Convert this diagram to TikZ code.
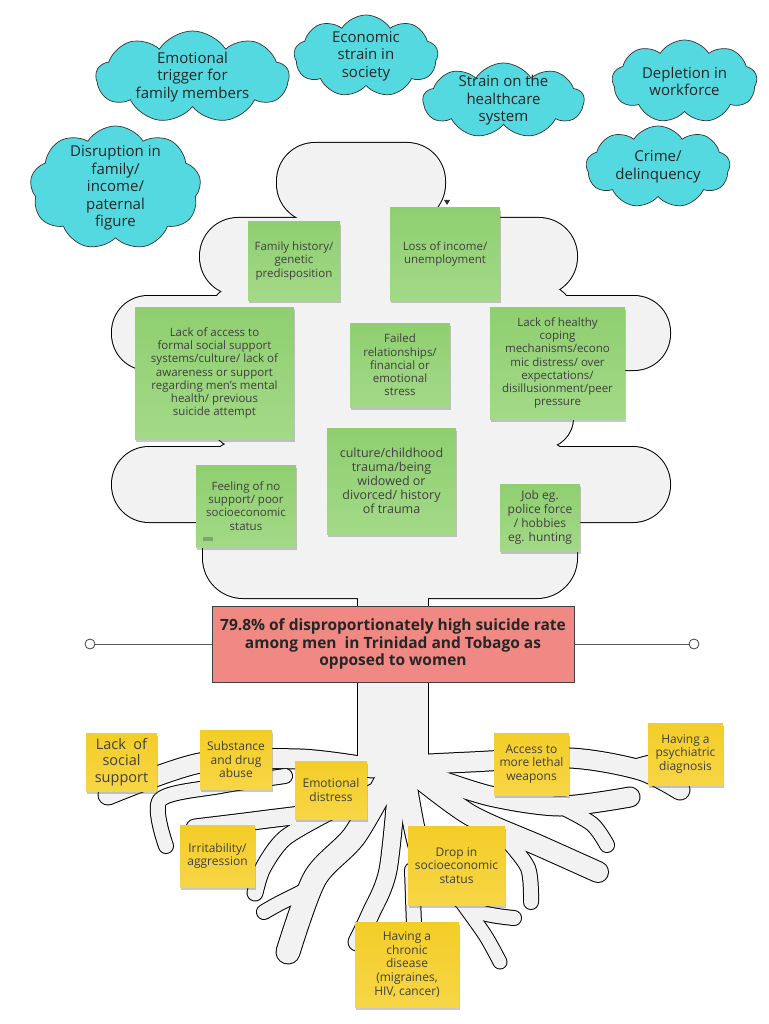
\documentclass[tikz,border=0pt]{standalone}
\usepackage{fontspec}
\setmainfont{Open Sans}
\usepackage{xcolor}
\usepackage{tikz}
\usetikzlibrary{shapes.symbols,shadows,positioning}
\definecolor{cloudcyan}{RGB}{84,217,224}
\definecolor{greentop}{RGB}{143,207,112}
\definecolor{greenbot}{RGB}{163,217,135}
\definecolor{yellowtop}{RGB}{243,205,40}
\definecolor{yellowbot}{RGB}{247,214,70}
\definecolor{ratered}{RGB}{240,137,131}
\definecolor{treegray}{RGB}{242,242,242}
\tikzset{
  cloudnote/.style={cloud, cloud puffs=9, cloud puff arc=115, cloud ignores aspect, draw=black!80, fill=cloudcyan, line width=0.7pt, inner sep=0pt},
  cloudtext/.style={align=center, text=black!85, font=\fontsize{15}{17.5}\selectfont},
  sticky/.style={align=center, text=black!75, drop shadow={shadow xshift=1pt, shadow yshift=-3pt, opacity=0.3, fill=black!70}},
  greennote/.style={sticky, top color=greentop, bottom color=greenbot, font=\fontsize{11.5}{13.3}\selectfont},
  yellownote/.style={sticky, top color=yellowtop, bottom color=yellowbot, font=\fontsize{12}{13.6}\selectfont},
  ratebox/.style={draw=black!75, fill=ratered, line width=0.8pt, align=center, text=black!85, font=\bfseries\fontsize{15.5}{17.5}\selectfont},
  endpoint/.style={circle, draw=black!75, fill=white, line width=0.8pt, minimum size=10pt, inner sep=0pt},
  connector/.style={draw=black!65, line width=0.9pt}
}
% lobes of the crown and the trunk
\newcommand{\treeshape}[1]{%
  \path[#1, rounded corners=38pt] (277,143) rectangle (445,222);
  \path[#1, rounded corners=38pt] (200,218) rectangle (577,295);
  \path[#1, rounded corners=36pt] (112,296) rectangle (670,370);
  \path[#1, rounded corners=30pt] (210,285) rectangle (573,448);
  \path[#1, rounded corners=37pt] (112,447) rectangle (670,522);
  \path[#1, rounded corners=40pt] (203,440) rectangle (577,598);
  \path[#1] (358,560) rectangle (428,775);
}
% root branches
\newcommand{\rootshape}[2]{%
  \begin{scope}[#1, line cap=round, line join=round]
    \draw[line width=19pt+#2] plot[smooth] coordinates {(372,768) (300,759) (200,763) (108,795)};
    \draw[line width=14pt+#2] plot[smooth] coordinates {(285,776) (220,786) (160,800) (166,846)};
    \draw[line width=17pt+#2] plot[smooth] coordinates {(375,792) (330,810) (260,820) (195,828)};
    \draw[line width=15pt+#2] plot[smooth] coordinates {(330,812) (285,838) (263,868) (255,893)};
    \draw[line width=23pt+#2] plot[smooth] coordinates {(393,768) (355,835) (315,878) (288,952)};
    \draw[line width=14pt+#2] plot[smooth] coordinates {(310,888) (280,903) (264,912)};
    \draw[line width=17pt+#2] plot[smooth] coordinates {(398,772) (388,870) (370,915) (357,942)};
    \draw[line width=20pt+#2] plot[smooth] coordinates {(405,775) (420,850) (450,895)};
    \draw[line width=14pt+#2] plot[smooth] coordinates {(412,870) (414,925)};
    \draw[line width=19pt+#2] plot[smooth] coordinates {(410,765) (470,762) (570,758) (640,770) (680,790)};
    \draw[line width=14pt+#2] plot[smooth] coordinates {(630,768) (670,758) (705,758)};
    \draw[line width=19pt+#2] plot[smooth] coordinates {(425,775) (490,796) (560,806) (630,797)};
    \draw[line width=14pt+#2] plot[smooth] coordinates {(560,806) (592,824) (607,845)};
    \draw[line width=20pt+#2] plot[smooth] coordinates {(412,772) (470,815) (540,846) (598,872)};
    \draw[line width=14pt+#2] plot[smooth] coordinates {(505,838) (528,868) (531,902)};
    \draw[line width=14pt+#2] plot[smooth] coordinates {(445,890) (480,912) (514,918)};
    \draw[line width=13pt+#2] plot[smooth] coordinates {(460,900) (485,935) (500,962)};
  \end{scope}}

\begin{document}
\begin{tikzpicture}[x=1pt, y=-1pt]
\useasboundingbox (0,0) rectangle (768,1024);
\fill[white] (0,0) rectangle (768,1024);

% tree
\treeshape{draw=black, line width=2pt}
\rootshape{black}{2pt}
\treeshape{fill=treegray}
\rootshape{treegray}{0pt}
\fill[black!80] (444,200) -- (450,200) -- (447,205) -- cycle;

% consequences
\node[cloudnote, minimum width=193pt, minimum height=92pt] (trigger) at (192.5,77) {};
\node[cloudtext] (triggertext) at (trigger) {Emotional\\trigger for\\family members};
\node[cloudnote, minimum width=144pt, minimum height=82pt] (economy) at (366,56) {};
\node[cloudtext] (economytext) at (economy) {Economic\\strain in\\society};
\node[cloudnote, minimum width=161pt, minimum height=75pt] (health) at (503.5,100.5) {};
\node[cloudtext] (healthtext) at (health) {Strain on the\\healthcare\\system};
\node[cloudnote, minimum width=145pt, minimum height=83pt] (workforce) at (684.5,81.5) {};
\node[cloudtext] (workforcetext) at (workforce) {Depletion in\\workforce};
\node[cloudnote, minimum width=144pt, minimum height=82pt] (crime) at (658,167) {};
\node[cloudtext] (crimetext) at (crime) {Crime/\\delinquency};
\node[cloudnote, minimum width=171pt, minimum height=124pt] (disruption) at (115.5,188) {};
\node[cloudtext] (disruptiontext) at (disruption) {Disruption in\\family/\\income/\\paternal\\figure};

% causes
\node[greennote, minimum width=92pt, minimum height=78pt] (history) at (294,261) {Family history/\\genetic\\predisposition};
\node[greennote, minimum width=110pt, minimum height=92pt] (income) at (445,254) {Loss of income/\\unemployment};
\node[greennote, minimum width=159pt, minimum height=132pt] (access) at (214.5,373) {Lack of access to\\formal social support\\systems/culture/ lack of\\awareness or support\\regarding men’s mental\\health/ previous\\suicide attempt};
\node[greennote, minimum width=100pt, minimum height=84pt] (failed) at (400,365) {Failed\\relationships/\\financial or\\emotional\\stress};
\node[greennote, minimum width=135pt, minimum height=112pt] (coping) at (557.5,363) {Lack of healthy\\coping\\mechanisms/econo\\mic distress/ over\\expectations/\\disillusionment/peer\\pressure};
\node[greennote, font=\fontsize{12.5}{14}\selectfont, minimum width=129pt, minimum height=106pt] (trauma) at (391.5,481) {culture/childhood\\trauma/being\\widowed or\\divorced/ history\\of trauma};
\node[greennote, minimum width=100pt, minimum height=82pt] (nosupport) at (246,506) {Feeling of no\\support/ poor\\socioeconomic\\status};
\fill[greentop!60!black, opacity=0.5] (203,537) rectangle (213,541);
\node[greennote, font=\fontsize{12}{14}\selectfont, minimum width=80pt, minimum height=67pt] (job) at (540,517.5) {Job eg.\\police force\\/ hobbies\\eg. hunting};

% problem
\node[ratebox, minimum width=362pt, minimum height=76pt] (rate) at (393,644) {79.8\% of disproportionately high suicide rate\\among men\ \ in Trinidad and Tobago as\\opposed to women};
\node[endpoint] (leftend) at (90,644) {};
\node[endpoint] (rightend) at (694,644) {};
\draw[connector] (rate) -- (leftend);
\draw[connector] (rate) -- (rightend);

% roots
\node[yellownote, font=\fontsize{14.5}{16.5}\selectfont, minimum width=71pt, minimum height=58pt] (social) at (121.5,762) {Lack\ \ of\\social\\support};
\node[yellownote, minimum width=72pt, minimum height=59pt] (substance) at (236,759.5) {Substance\\and drug\\abuse};
\node[yellownote, minimum width=72pt, minimum height=58pt] (distress) at (331,790) {Emotional\\distress};
\node[yellownote, minimum width=75pt, minimum height=62pt] (irritability) at (217.5,856) {Irritability/\\aggression};
\node[yellownote, minimum width=104pt, minimum height=85pt] (chronic) at (407,964.5) {Having a\\chronic\\disease\\(migraines,\\HIV, cancer)};
\node[yellownote, minimum width=97pt, minimum height=79pt] (drop) at (456.5,865.5) {Drop in\\socioeconomic\\status};
\node[yellownote, minimum width=75pt, minimum height=62pt] (weapons) at (531.5,764) {Access to\\more lethal\\weapons};
\node[yellownote, minimum width=75pt, minimum height=62pt] (psychiatric) at (685.5,754) {Having a\\psychiatric\\diagnosis};
\end{tikzpicture}
\end{document}
